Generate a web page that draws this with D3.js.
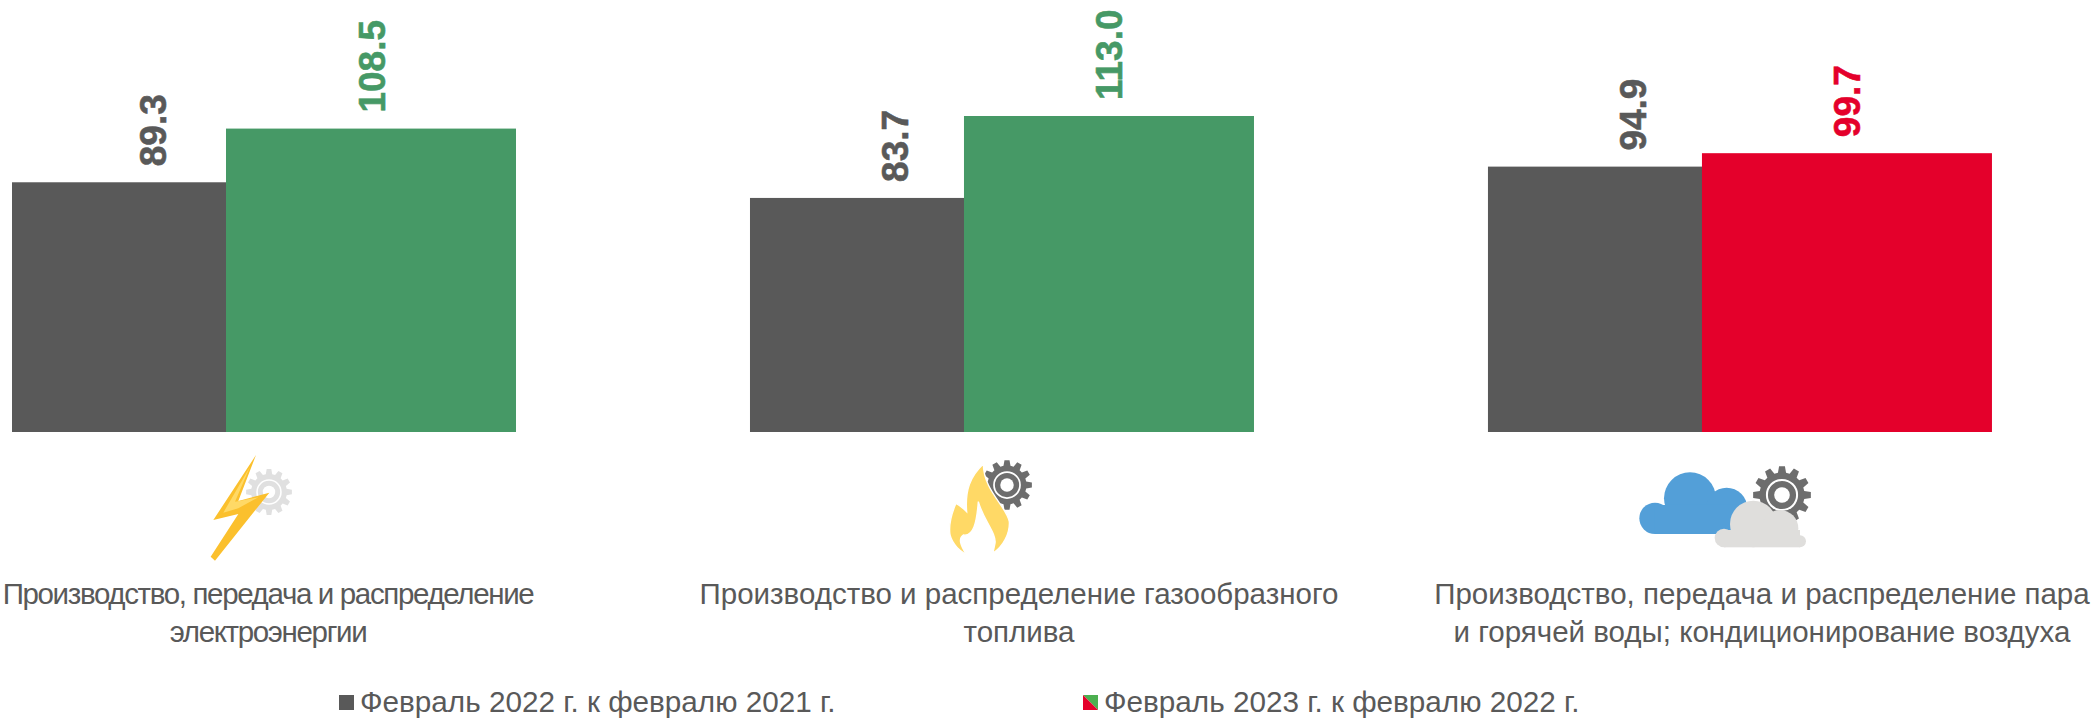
<!DOCTYPE html>
<html lang="ru">
<head>
    <meta charset="UTF-8">
    <title>Индексы производства</title>
    <script src="https://d3js.org/d3.v7.min.js"></script>
    <style>
        body, html { margin: 0; background: #ffffff; }
        svg { display: block; }
        text { font-family: "Liberation Sans", Arial, sans-serif; }
        .value { font-size: 37px; font-weight: bold; stroke-width: 0.6px; }
        .cat { font-size: 29.5px; fill: #595959; text-anchor: middle; }
        .legend { font-size: 29.7px; fill: #595959; }
    </style>
</head>
<body>
    <svg width="2095" height="718"></svg>
    <script>
        const categories = ["electricity", "gas", "steam"];
        const seriesNames = ["Февраль 2022 г. к февралю 2021 г.", "Февраль 2023 г. к февралю 2022 г."];
        const values2022 = [89.3, 83.7, 94.9];
        const values2023 = [108.5, 113.0, 99.7];
        const colors2022 = ["#595959", "#595959", "#595959"];
        const colors2023 = ["#469966", "#469966", "#E4002B"];
        const catLines = [
            ["Производство, передача и распределение", "электроэнергии"],
            ["Производство и распределение газообразного", "топлива"],
            ["Производство, передача и распределение пара", "и горячей воды; кондиционирование воздуха"]
        ];

        const svg = d3.select("svg");
        const baseline = 432;
        const barWidth = 290;

        const x = d3.scaleBand().domain(categories).range([12, 1992]).paddingInner(0.317);
        const xInner = d3.scalePoint().domain([0, 1]).range([0, 214]);
        const y = d3.scaleLinear().domain([0, 113]).range([baseline, baseline - 316]);

        // the gray bar runs on behind the second one, as in the original
        const labelNudge = [[-4, 0, 0], [1, 0, 0]];
        [[values2022, colors2022], [values2023, colors2023]].forEach(([vals, cols], s) => {
            const g = svg.append("g");
            g.selectAll("rect").data(vals).enter().append("rect")
                .attr("x", (d, i) => x(categories[i]) + xInner(s))
                .attr("y", d => y(d))
                .attr("width", barWidth)
                .attr("height", d => baseline - y(d))
                .attr("fill", (d, i) => cols[i]);
            g.selectAll("text").data(vals).enter().append("text")
                .attr("class", "value")
                .attr("fill", (d, i) => cols[i])
                .attr("stroke", (d, i) => cols[i])
                .attr("transform", (d, i) => {
                    const cx = x(categories[i]) + xInner(s) + barWidth / 2 + labelNudge[s][i];
                    return `translate(${cx + 13},${y(d) - 16}) rotate(-90)`;
                })
                .text(d => d.toFixed(1));
        });

        // category captions
        const captionShift = [4, 17, 22];
        catLines.forEach((lines, i) => {
            const cx = x(categories[i]) + x.bandwidth() / 2 + captionShift[i];
            lines.forEach((line, j) => {
                svg.append("text").attr("class", "cat")
                    .attr("x", cx)
                    .attr("y", 604 + j * 38)
                    .attr("letter-spacing", i === 0 ? "-1.35px" : null)
                    .text(line);
            });
        });

        // gear icon
        function gear(cx, cy, r, fill) {
            const teeth = 12;
            const pts = [];
            for (let i = 0; i < teeth; i++) {
                const a = i / teeth * 2 * Math.PI;
                const w = Math.PI / teeth * 0.55;
                pts.push([a - w * 1.25, r * 0.78], [a - w * 0.7, r], [a + w * 0.7, r], [a + w * 1.25, r * 0.78]);
            }
            const line = d3.lineRadial().curve(d3.curveLinearClosed);
            const g = svg.append("g").attr("transform", `translate(${cx},${cy})`);
            g.append("path").attr("d", line(pts)).attr("fill", fill);
            g.append("circle").attr("r", r * 0.52).attr("fill", "none").attr("stroke", "#ffffff").attr("stroke-width", r * 0.07);
            g.append("circle").attr("r", r * 0.27).attr("fill", "#ffffff");
        }

        // icon 1: lightning + light gear
        gear(269, 492, 23, "#e0e0e0");
        const bolt = svg.append("g").attr("transform", "translate(170,440) scale(0.3333)");
        bolt.append("path").attr("d", "M258,45 L130,240 L205,222 L122,350 L135,362 L298,158 L205,183 Z").attr("fill", "#FBC02D");
        bolt.append("path").attr("d", "M240,80 L160,218 L205,205 L265,172 L195,185 Z").attr("fill", "#FFD966");

        // icon 2: flame + gear
        gear(1007, 485, 25, "#6d6d6d");
        svg.append("g").attr("transform", "translate(920,440) scale(0.3333)")
            .append("path")
            .attr("d", "M190,72 C150,110 135,150 140,215 C130,205 118,195 108,190 C95,220 85,250 90,285 C100,320 125,335 140,345 C120,315 115,295 130,285 C160,290 170,250 175,185 C190,240 230,280 225,310 C222,325 220,335 218,340 C250,320 270,280 268,245 C260,200 190,150 190,72 Z")
            .attr("fill", "#FFD966")
            .attr("stroke", "#ffffff")
            .attr("stroke-width", 4);

        // icon 3: clouds + gear
        const clouds = svg.append("g").attr("transform", "translate(1620,450) scale(0.3333)");
        gear(1782, 495, 29, "#6d6d6d");
        const cloudsTop = svg.append("g").attr("transform", "translate(1620,450) scale(0.3333)");
        const blue = "#539FD8", pale = "#DFDEDC";
        [[105, 205, 47], [210, 145, 78], [320, 175, 62]].forEach(c => {
            clouds.append("circle").attr("cx", c[0]).attr("cy", c[1]).attr("r", c[2]).attr("fill", blue);
        });
        clouds.append("rect").attr("x", 105).attr("y", 165).attr("width", 260).attr("height", 87).attr("fill", blue);
        [[400, 222, 70], [480, 235, 55], [312, 264, 28], [540, 274, 18]].forEach(c => {
            cloudsTop.append("circle").attr("cx", c[0]).attr("cy", c[1]).attr("r", c[2]).attr("fill", pale);
        });
        cloudsTop.append("rect").attr("x", 312).attr("y", 240).attr("width", 228).attr("height", 52).attr("fill", pale);

        // legend
        svg.append("rect").attr("x", 339).attr("y", 695).attr("width", 15).attr("height", 15).attr("fill", "#595959");
        svg.append("text").attr("class", "legend").attr("x", 360).attr("y", 712).text(seriesNames[0]);
        svg.append("path").attr("d", "M1083,695 H1098 V710 Z").attr("fill", "#4CAF50");
        svg.append("path").attr("d", "M1083,695 V710 H1098 Z").attr("fill", "#E4002B");
        svg.append("text").attr("class", "legend").attr("x", 1104).attr("y", 712).text(seriesNames[1]);
    </script>
</body>
</html>
